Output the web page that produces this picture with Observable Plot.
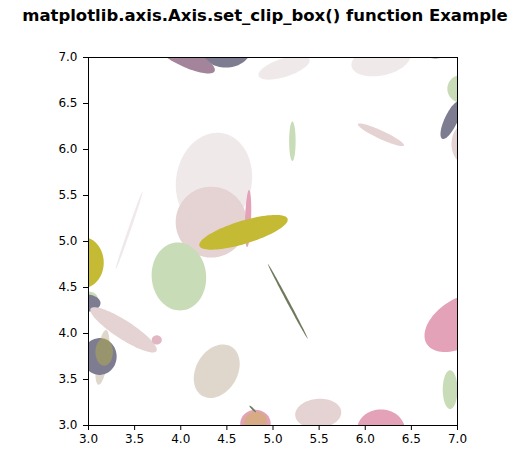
<!DOCTYPE html>
<html><head><meta charset="utf-8">
<script src="https://cdn.jsdelivr.net/npm/d3@7"></script>
<script src="https://cdn.jsdelivr.net/npm/@observablehq/plot@0.6"></script>
<style>body{margin:0;background:#fff} svg{display:block}</style>
</head><body><div id="chart"></div>
<script>
const title = "matplotlib.axis.Axis.set_clip_box() function Example";

// ellipses (data units): kind, centre x, centre y, width, height, angle (deg)
const ellipseKind  = ["vlight","rose","pink","yellow","gray","mauve","vlight","vlight","gray","green","rose","gray","green","rose","vlight","yellow","green","gray","rose","rosepink","beige","gray","yellowGlaze","green","beige","pink","yellowGlaze","olive","rose","pink","green","pink","olive"];
const ellipseX     = [4.36, 4.33, 4.73, 4.68, 4.49, 4.05, 5.12, 6.17, 6.76, 7.04, 7.06, 6.93, 5.21, 6.17, 3.44, 2.93, 3.00, 2.97, 3.38, 3.74, 3.15, 3.12, 3.17, 3.98, 4.39, 4.81, 4.81, 4.78, 5.49, 6.17, 6.92, 7.04, 5.16];
const ellipseY     = [5.66, 5.21, 5.25, 5.10, 7.13, 7.00, 6.89, 6.97, 7.04, 6.66, 6.06, 6.32, 6.09, 6.16, 5.12, 4.77, 4.38, 4.33, 4.04, 3.93, 3.74, 3.75, 3.80, 4.62, 3.59, 3.02, 3.04, 3.18, 3.13, 2.95, 3.39, 4.12, 4.35];
const ellipseW     = [1.05, 0.77, 0.62, 1.00, 0.57, 0.70, 0.58, 0.65, 0.25, 0.30, 0.25, 0.45, 0.43, 0.55, 0.90, 0.47, 0.20, 0.32, 0.85, 0.11, 0.60, 0.37, 0.30, 0.74, 0.62, 0.33, 0.25, 0.10, 0.50, 0.52, 0.42, 0.88, 0.92];
const ellipseH     = [0.82, 0.77, 0.065,0.25, 0.48, 0.20, 0.20, 0.33, 0.10, 0.30, 0.40, 0.14, 0.07, 0.09, 0.03, 0.56, 0.15, 0.19, 0.20, 0.10, 0.13, 0.40, 0.19, 0.59, 0.45, 0.30, 0.22, 0.02, 0.32, 0.45, 0.16, 0.52, 0.025];
const ellipseAngle = [80, 0, 88, 17, 0, -25, 18, 12, 0, 0, 0, 65, 90, -25, 71, 0, 0, 0, -33, 0, 82, 0, 90, 95, 60, 0, 20, -45, 5, 0, 90, 32, -62];

const kindNames  = ["vlight","rose","beige","pink","rosepink","yellow","yellowGlaze","green","gray","mauve","olive"];
const kindColors = ["#f0e9ea","#e5d2d2","#e0d7cc","#e3a2b8","#e2b7c4","#c4ba34","rgba(196,186,52,0.38)","#c7dcb7","#7d7c91","#a3849b","#6f7a5d"];

// outline points of each ellipse (geometry from the parameters above)
const pts = [];
ellipseKind.forEach((k, i) => {
  const a = ellipseAngle[i] * Math.PI / 180, rx = ellipseW[i] / 2, ry = ellipseH[i] / 2;
  for (let s = 0; s < 90; s++) {
    const t = 2 * Math.PI * s / 90;
    pts.push({
      id: i, kind: k,
      x: ellipseX[i] + rx * Math.cos(t) * Math.cos(a) - ry * Math.sin(t) * Math.sin(a),
      y: ellipseY[i] + rx * Math.cos(t) * Math.sin(a) + ry * Math.sin(t) * Math.cos(a)
    });
  }
});

const chart = Plot.plot({
  width: 520, height: 455,
  marginLeft: 88, marginRight: 63, marginTop: 57, marginBottom: 30,
  style: {fontFamily: "DejaVu Sans", fontSize: "12px", color: "black", background: "white"},
  x: {domain: [3, 7], ticks: 8, tickFormat: d3.format(".1f"), tickSize: 5, tickPadding: 4, label: null},
  y: {domain: [3, 7], ticks: 8, tickFormat: d3.format(".1f"), tickSize: 5, tickPadding: 6, label: null},
  color: {type: "ordinal", domain: kindNames, range: kindColors},
  marks: [
    Plot.line(pts, {x: "x", y: "y", z: "id", fill: "kind", stroke: "none", curve: "linear-closed", clip: true}),
    Plot.frame({stroke: "black", strokeWidth: 1}),
    Plot.text([title], {text: d => d, frameAnchor: "top", dx: -8, dy: -37, lineAnchor: "bottom", fontWeight: "bold", fontSize: 16.5})
  ]
});
document.getElementById("chart").appendChild(chart);
</script></body></html>
